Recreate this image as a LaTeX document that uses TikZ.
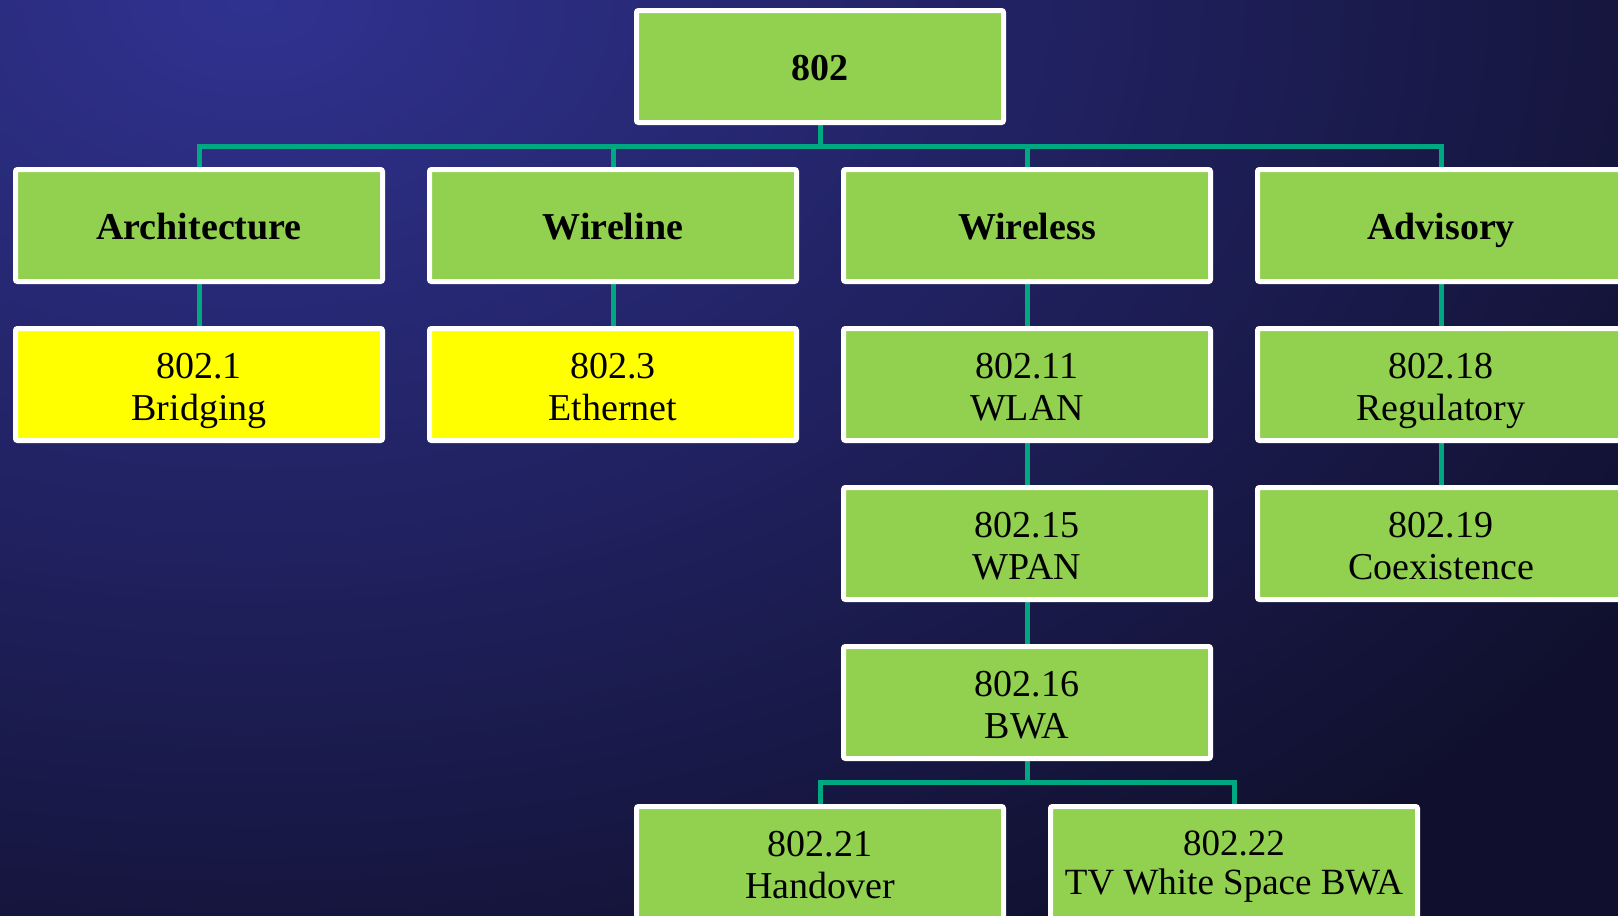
\documentclass[tikz,border=0pt]{standalone}
\usepackage{fontspec}
\setmainfont{Liberation Serif}
\usetikzlibrary{shadings}
\pgfdeclarelayer{bgshade}
\pgfdeclarelayer{background}
\pgfsetlayers{bgshade,background,main}
\definecolor{boxgreen}{RGB}{146,208,80}
\definecolor{boxyellow}{RGB}{255,255,0}
\definecolor{conncol}{RGB}{0,168,130}
\definecolor{bgIn}{RGB}{48,50,144}
\definecolor{bgOut}{RGB}{16,16,46}
% struts for consistent vertical placement
\newcommand\topst{\rule{0pt}{38pt}}
\newcommand\botst{\rule[-9pt]{0pt}{9pt}}
\newcommand\headst{\rule[-9pt]{0pt}{45pt}}
\newcommand\topstB{\rule{0pt}{33pt}}
\begin{document}
\begin{tikzpicture}[x=1pt,y=-1pt,
  box/.style={draw=white, line width=5pt, rounded corners=2pt, fill=boxgreen,
    minimum width=367pt, minimum height=112pt, inner sep=0pt, outer sep=0pt,
    align=center, text=black, font=\fontsize{38}{42}\selectfont},
  head/.style={box, font=\fontsize{38}{42}\selectfont\bfseries},
  ybox/.style={box, fill=boxyellow},
  conn/.style={draw=conncol, line width=5pt}]
\useasboundingbox (0,0) rectangle (1618,916);
\begin{pgfonlayer}{bgshade}
\begin{scope}
\clip (0,0) rectangle (1618,916);
\fill[bgOut] (0,0) rectangle (1618,916);
\shade[inner color=bgIn, outer color=bgOut] (250,0) ellipse [x radius=1650, y radius=1100];
\end{scope}
\end{pgfonlayer}

\node[head] (top) at (820,66.5) {\headst 802};
\node[head] (arch) at (199,225.5) {\headst Architecture};
\node[head] (wline) at (613,225.5) {\headst Wireline};
\node[head] (wless) at (1027,225.5) {\headst Wireless};
\node[head] (adv) at (1441,225.5) {\headst Advisory};

\node[ybox] (b1) at (199,384.5) {\topst 802.1\\Bridging\botst};
\node[ybox] (b3) at (613,384.5) {\topst 802.3\\Ethernet\botst};
\node[box] (b11) at (1027,384.5) {\topst 802.11\\WLAN\botst};
\node[box] (b18) at (1441,384.5) {\topst 802.18\\Regulatory\botst};
\node[box] (b15) at (1027,543.5) {\topst 802.15\\WPAN\botst};
\node[box] (b19) at (1441,543.5) {\topst 802.19\\Coexistence\botst};
\node[box] (b16) at (1027,702.5) {\topst 802.16\\BWA\botst};
\node[box] (b21) at (820,862.5) {\topst 802.21\\Handover\botst};
\node[box, font=\fontsize{37}{39}\selectfont] (b22) at (1234,862.5) {\topstB 802.22\\TV White Space BWA\botst};

\coordinate (bus) at (820,146);
\coordinate (bus2) at (1027,782);
\begin{pgfonlayer}{background}
\draw[conn] (top.south) -- (bus);
\draw[conn] (arch.north) |- (bus);
\draw[conn] (wline.north) |- (bus);
\draw[conn] (wless.north) |- (bus);
\draw[conn] (adv.north) |- (bus);
\draw[conn] (arch.south) -- (b1.north);
\draw[conn] (wline.south) -- (b3.north);
\draw[conn] (wless.south) -- (b11.north);
\draw[conn] (adv.south) -- (b18.north);
\draw[conn] (b11.south) -- (b15.north);
\draw[conn] (b18.south) -- (b19.north);
\draw[conn] (b15.south) -- (b16.north);
\draw[conn] (b16.south) -- (bus2);
\draw[conn] (b21.north) |- (bus2);
\draw[conn] (b22.north) |- (bus2);
\end{pgfonlayer}
\end{tikzpicture}
\end{document}
